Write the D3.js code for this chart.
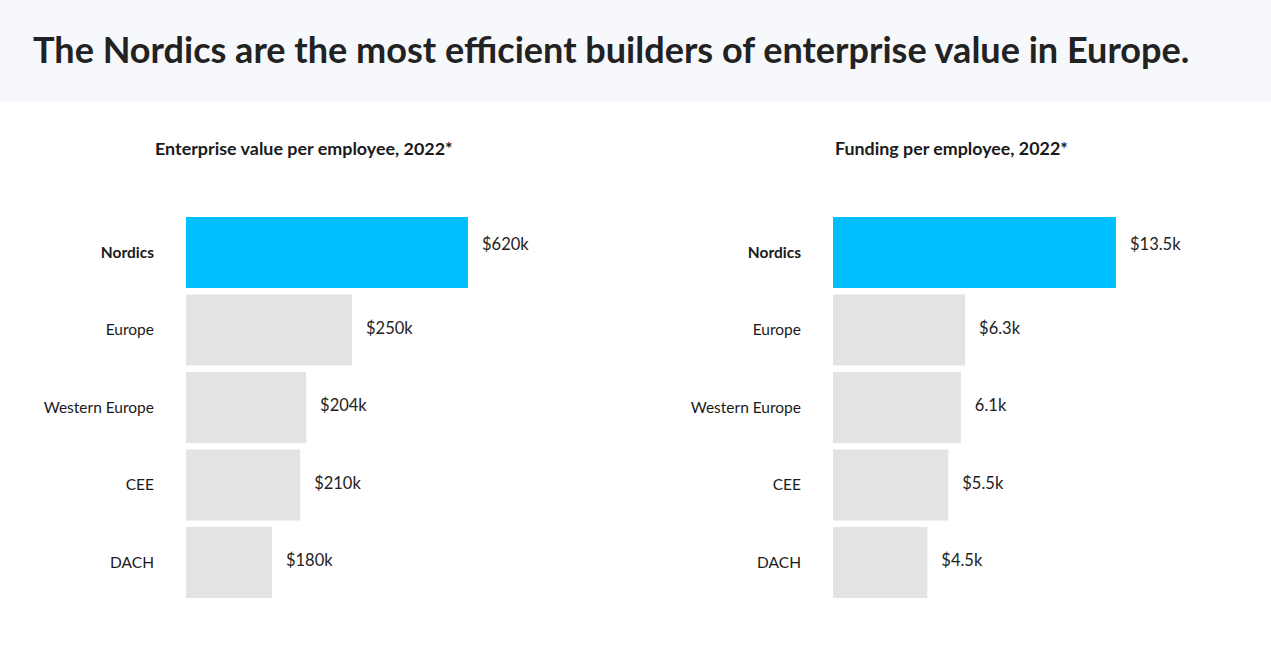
<!DOCTYPE html>
<html>
<head>
<meta charset="utf-8">
<script src="https://cdn.jsdelivr.net/npm/d3@7"></script>
<style>
  html, body { margin: 0; padding: 0; background: #fff; }
  svg { display: block; font-family: "Source Sans Pro", Lato, "Noto Sans", sans-serif; }
</style>
</head>
<body>
<svg id="chart" width="1271" height="662"></svg>
<script>
// ---- data ----
const titleText = "The Nordics are the most efficient builders of enterprise value in Europe.";
const categories = ["Nordics", "Europe", "Western Europe", "CEE", "DACH"];

const evSubtitle = "Enterprise value per employee, 2022*";
const evLabels = ["$620k", "$250k", "$204k", "$210k", "$180k"];
// bar lengths as drawn in the picture, expressed in $k on the Nordics bar's scale
const evBarValues = [620, 365, 264, 251, 189];

const fundSubtitle = "Funding per employee, 2022*";
const fundLabels = ["$13.5k", "$6.3k", "6.1k", "$5.5k", "$4.5k"];
const fundValues = [13.5, 6.3, 6.1, 5.5, 4.5];

// ---- drawing ----
const svg = d3.select("#chart");
const W = 1271, H = 662;

svg.append("rect").attr("x", 0).attr("y", 0).attr("width", W).attr("height", 102).attr("fill", "#f7f8fc");

function fitText(sel, target) {
  const len = sel.node().getComputedTextLength();
  const fs = parseFloat(sel.attr("font-size"));
  sel.attr("font-size", fs * target / len);
}

const title = svg.append("text")
  .attr("x", 33).attr("y", 63)
  .attr("font-size", 31).attr("font-weight", 700).attr("fill", "#222")
  .text(titleText);
fitText(title, 1157);

const y = d3.scaleBand().domain(categories).range([217, 598]).paddingInner(0.084).paddingOuter(0);

function panel(opts) {
  const g = svg.append("g");
  const x = d3.scaleLinear().domain([0, opts.max]).range([opts.x0, opts.x1]);

  const st = g.append("text")
    .attr("x", opts.subX).attr("y", 155)
    .attr("font-size", 15).attr("font-weight", 700).attr("fill", "#1a1a1a")
    .text(opts.subtitle);
  fitText(st, opts.subW);

  g.selectAll("rect.bar").data(opts.values).join("rect")
    .attr("class", "bar")
    .attr("x", x(0))
    .attr("y", (d, i) => y(categories[i]))
    .attr("width", d => x(d) - x(0))
    .attr("height", y.bandwidth())
    .attr("fill", (d, i) => i === 0 ? "#00bfff" : "#e3e3e3");

  g.selectAll("text.cat").data(categories).join("text")
    .attr("class", "cat")
    .attr("x", opts.labelX)
    .attr("y", d => y(d) + y.bandwidth() / 2)
    .attr("dy", "0.35em")
    .attr("text-anchor", "end")
    .attr("font-size", 15.5)
    .attr("font-weight", (d, i) => i === 0 ? 700 : 400)
    .attr("fill", "#1a1a1a")
    .text(d => d);

  g.selectAll("text.val").data(opts.values).join("text")
    .attr("class", "val")
    .attr("x", d => x(d) + 14)
    .attr("y", (d, i) => y(categories[i]) + y.bandwidth() / 2 - (i === 0 ? 8 : 2))
    .attr("dy", "0.35em")
    .attr("font-size", 16.5)
    .attr("fill", "#222")
    .text((d, i) => opts.labels[i]);
}

panel({ values: evBarValues, labels: evLabels, max: 620, x0: 186, x1: 468,
        labelX: 154, subX: 155, subW: 298, subtitle: evSubtitle });
panel({ values: fundValues, labels: fundLabels, max: 13.5, x0: 833, x1: 1116,
        labelX: 801, subX: 835, subW: 233, subtitle: fundSubtitle });
</script>
</body>
</html>
